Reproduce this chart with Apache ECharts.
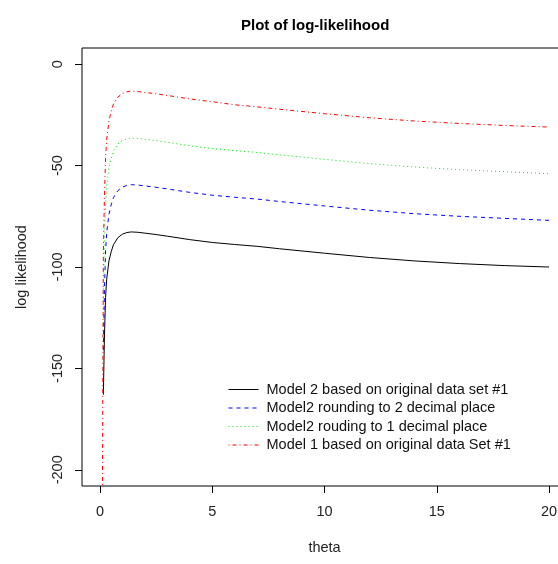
<!DOCTYPE html>
<html>
<head>
<meta charset="utf-8">
<script src="https://cdn.jsdelivr.net/npm/echarts@6/dist/echarts.min.js"></script>
<style>
html, body { margin: 0; padding: 0; background: #fff; }
#main { width: 558px; height: 564px; }
</style>
</head>
<body>
<div id="main"></div>
<script>
// values
var theta = [0.1, 0.15, 0.2, 0.25, 0.3, 0.4, 0.5, 0.6, 0.8, 1.0, 1.2, 1.4, 1.7, 2.0, 2.5, 3, 4, 5, 6, 7, 8, 10, 12, 14, 16, 18, 20];
var model2Orig = [null, -163, -134, -115, -106, -97, -92.5, -89, -85.5, -83.8, -83, -82.7, -82.9, -83.3, -84, -84.8, -86.5, -87.9, -88.9, -89.8, -91, -93.2, -95.3, -97, -98.3, -99.3, -100];
var model2Round2 = [null, -141, -111, -92, -83, -74, -69.3, -65.8, -62.3, -60.6, -59.8, -59.4, -59.6, -60, -60.7, -61.5, -63.2, -64.6, -65.6, -66.5, -67.7, -69.9, -72, -73.7, -75, -76, -77];
var model2Round1 = [null, -117, -88, -69, -60, -51, -46.3, -42.8, -39.3, -37.6, -36.8, -36.4, -36.6, -37, -37.7, -38.5, -40.2, -41.6, -42.6, -43.5, -44.7, -46.9, -49, -50.7, -52, -53, -54];
var model1Orig = [-240, -94, -65, -46, -37, -28, -23.2, -19.7, -16.2, -14.4, -13.6, -13.2, -13.5, -13.9, -14.6, -15.4, -17.1, -18.5, -20, -21, -22.2, -24.4, -26.4, -28, -29.2, -30.2, -31];
var xTicks = [0, 5, 10, 15, 20];
var yTicks = [0, -50, -100, -150, -200];
var names = ['Model 2 based on original data set #1', 'Model2 rounding to 2 decimal place', 'Model2 rouding to 1 decimal place', 'Model 1 based on original data Set #1'];

function pairs(ys) {
    var out = [];
    for (var i = 0; i < theta.length; i++) {
        out.push([theta[i], ys[i]]);
    }
    return out;
}

var font = "'Liberation Sans', Arial, sans-serif";
var chart = echarts.init(document.getElementById('main'));

function mkSeries(name, ys, color, dash) {
    return {
        name: name,
        type: 'line',
        data: pairs(ys),
        symbol: 'none',
        animation: false,
        lineStyle: { color: color, width: 1, type: dash },
        itemStyle: { color: color }
    };
}

var option = {
    backgroundColor: '#fff',
    title: {
        text: 'Plot of log-likelihood',
        left: 236,
        top: 13,
        textStyle: { fontFamily: font, fontSize: 15, fontWeight: 'bold', color: '#000' }
    },
    legend: {
        orient: 'vertical',
        left: 223,
        top: 377,
        itemWidth: 30,
        itemHeight: 14,
        itemGap: 3.5,
        data: names,
        itemStyle: { color: 'transparent', borderWidth: 0, opacity: 0 },
        lineStyle: { width: 1 },
        textStyle: { fontFamily: font, fontSize: 14.5, color: '#111', padding: [0, 0, 0, 3] }
    },
    grid: {
        left: 82,
        top: 48,
        right: -9,
        bottom: 78,
        outerBoundsMode: 'none',
        show: true,
        borderColor: '#000',
        borderWidth: 1
    },
    xAxis: {
        type: 'value',
        min: -0.8,
        max: 20.8,
        name: 'theta',
        nameLocation: 'middle',
        nameGap: 54,
        nameTextStyle: { fontFamily: font, fontSize: 14.5, color: '#222' },
        axisLine: { show: false, onZero: false },
        splitLine: { show: false },
        axisTick: { show: true, length: 7, customValues: xTicks, lineStyle: { color: '#000' } },
        axisLabel: { customValues: xTicks, margin: 18, fontFamily: font, fontSize: 14.5, color: '#222' }
    },
    yAxis: {
        type: 'value',
        min: -208,
        max: 8,
        name: 'log likelihood',
        nameLocation: 'middle',
        nameGap: 53,
        nameTextStyle: { fontFamily: font, fontSize: 14.5, color: '#222' },
        axisLine: { show: false, onZero: false },
        splitLine: { show: false },
        axisTick: { show: true, length: 7, customValues: yTicks, lineStyle: { color: '#000' } },
        axisLabel: { customValues: yTicks, rotate: 90, margin: 17, fontFamily: font, fontSize: 14.5, color: '#222' }
    },
    series: [
        mkSeries(names[0], model2Orig, '#000000', 'solid'),
        mkSeries(names[1], model2Round2, '#0000ff', [4, 4]),
        mkSeries(names[2], model2Round1, '#00ee00', [1, 3]),
        mkSeries(names[3], model1Orig, '#ff0000', [1, 3, 4, 3])
    ]
};
chart.setOption(option);
</script>
</body>
</html>
